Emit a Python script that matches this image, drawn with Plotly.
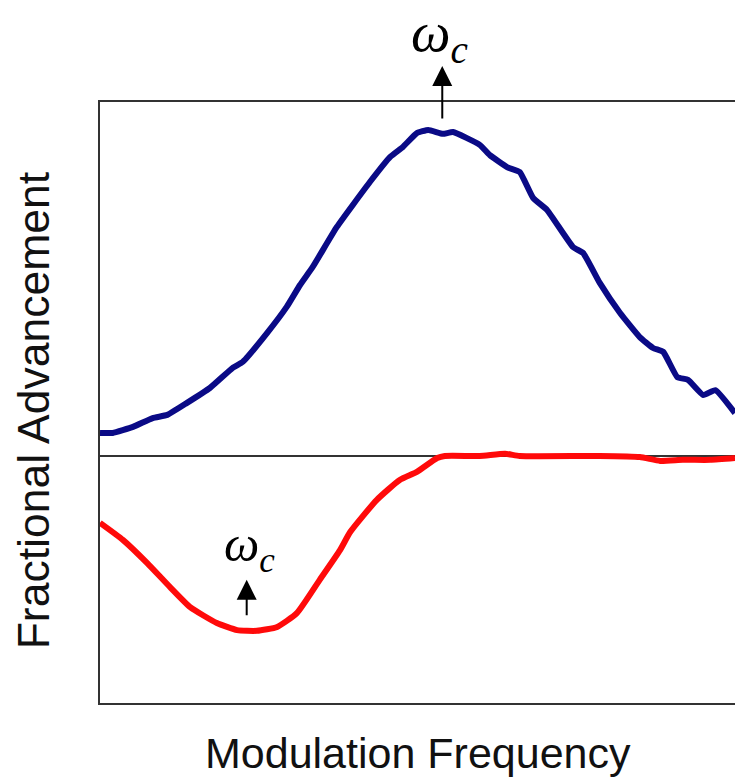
import plotly.graph_objects as go

# Modulation frequency (arbitrary units, 0-100 across the visible plot)
blue_x = [0, 2.0, 5.2, 8.3, 10.6, 13.7, 17.3, 20.9, 22.5, 26.3, 29.4, 31.5, 33.5, 37.3,
          42.5, 45.7, 47.7, 49.9, 51.7, 54.0, 55.6, 59.8, 61.4, 64.1, 66.1, 68.2, 70.4,
          74.5, 76.1, 78.7, 81.9, 85.0, 87.1, 88.7, 90.9, 92.6, 95.0, 96.9, 100]
blue_y = [6.5, 6.5, 8.2, 10.7, 11.6, 15.0, 19.2, 24.9, 26.6, 34.7, 42.1, 48.3, 53.4, 64.7,
          77.4, 84.5, 87.3, 91.2, 92.1, 91.0, 91.5, 87.9, 85.0, 81.6, 80.2, 72.9, 69.5,
          59.0, 57.3, 48.9, 40.4, 33.6, 30.5, 29.4, 22.3, 21.5, 17.2, 18.6, 12.1]

red_x = [0, 3.6, 7.4, 11.0, 14.2, 18.4, 21.6, 24.7, 27.9, 31.0, 34.6, 37.8, 39.4, 43.6,
         47.2, 49.9, 53.1, 54.3, 59.8, 63.8, 66.1, 78.7, 85.0, 88.2, 91.8, 96.1, 100]
red_y = [-18.9, -23.7, -30.2, -37.0, -42.7, -47.2, -49.2, -49.4, -48.3, -44.4, -35.0, -26.6,
         -21.5, -12.4, -6.8, -4.5, -0.6, 0, 0, 0.6, 0, 0, -0.3, -1.4, -1.1, -1.1, -0.6]

# omega_c markers
wc_blue_x = 53.9
wc_red_x = 23.1
wc_red_y = -35.0

x_title = "Modulation Frequency"
y_title = "Fractional Advancement"
wc_label = "<i>ω<sub>c</sub></i>"

fig = go.Figure()
fig.add_trace(go.Scatter(x=blue_x, y=blue_y, mode="lines",
                         line=dict(color="#0a0a86", width=6, shape="spline", smoothing=0.4),
                         showlegend=False, hoverinfo="skip"))
fig.add_trace(go.Scatter(x=red_x, y=red_y, mode="lines",
                         line=dict(color="#ff0a0a", width=6, shape="spline", smoothing=0.5),
                         showlegend=False, hoverinfo="skip"))

axis_line = "#333333"
fig.update_layout(
    width=735, height=777,
    margin=dict(l=100, r=0, t=102, b=74),
    paper_bgcolor="white", plot_bgcolor="white",
    xaxis=dict(range=[0, 100], showgrid=False, zeroline=False, showticklabels=False,
               ticks="", showline=True, linecolor=axis_line, linewidth=2, mirror=True),
    yaxis=dict(range=[-69.8, 100], showgrid=False, zeroline=True, zerolinecolor=axis_line,
               zerolinewidth=1.5, showticklabels=False, ticks="", showline=True,
               linecolor=axis_line, linewidth=2),
)

title_font = dict(family="Liberation Sans, Arial", size=43, color="#111111")
fig.add_annotation(text=x_title, xref="paper", yref="paper", x=0.5, y=-0.083,
                   showarrow=False, font=title_font, xanchor="center", yanchor="middle")
fig.add_annotation(text=y_title, xref="paper", yref="paper", x=-0.1055, y=0.487,
                   showarrow=False, font=dict(family="Liberation Sans, Arial", size=44.5,
                                              color="#111111"),
                   textangle=-90, xanchor="center", yanchor="middle")

# arrows
fig.add_annotation(x=wc_blue_x, y=1.06, xref="x", yref="paper", text="", showarrow=True,
                   ax=0, ay=54, arrowhead=2, arrowsize=2, arrowwidth=2, arrowcolor="black")
fig.add_annotation(x=wc_red_x, y=wc_red_y, xref="x", yref="y", text="", showarrow=True,
                   ax=0, ay=37, arrowhead=2, arrowsize=2, arrowwidth=2, arrowcolor="black")

# omega labels
fig.add_annotation(x=wc_blue_x - 0.4, y=1.11, xref="x", yref="paper", text=wc_label,
                   showarrow=False, font=dict(family="Liberation Serif, Times New Roman",
                                              size=56, color="black"),
                   xanchor="center", yanchor="middle")
fig.add_annotation(x=wc_red_x + 0.5, y=-26.1, xref="x", yref="y", text=wc_label,
                   showarrow=False, font=dict(family="Liberation Serif, Times New Roman",
                                              size=50, color="black"),
                   xanchor="center", yanchor="middle")

fig.write_html("out.html")
